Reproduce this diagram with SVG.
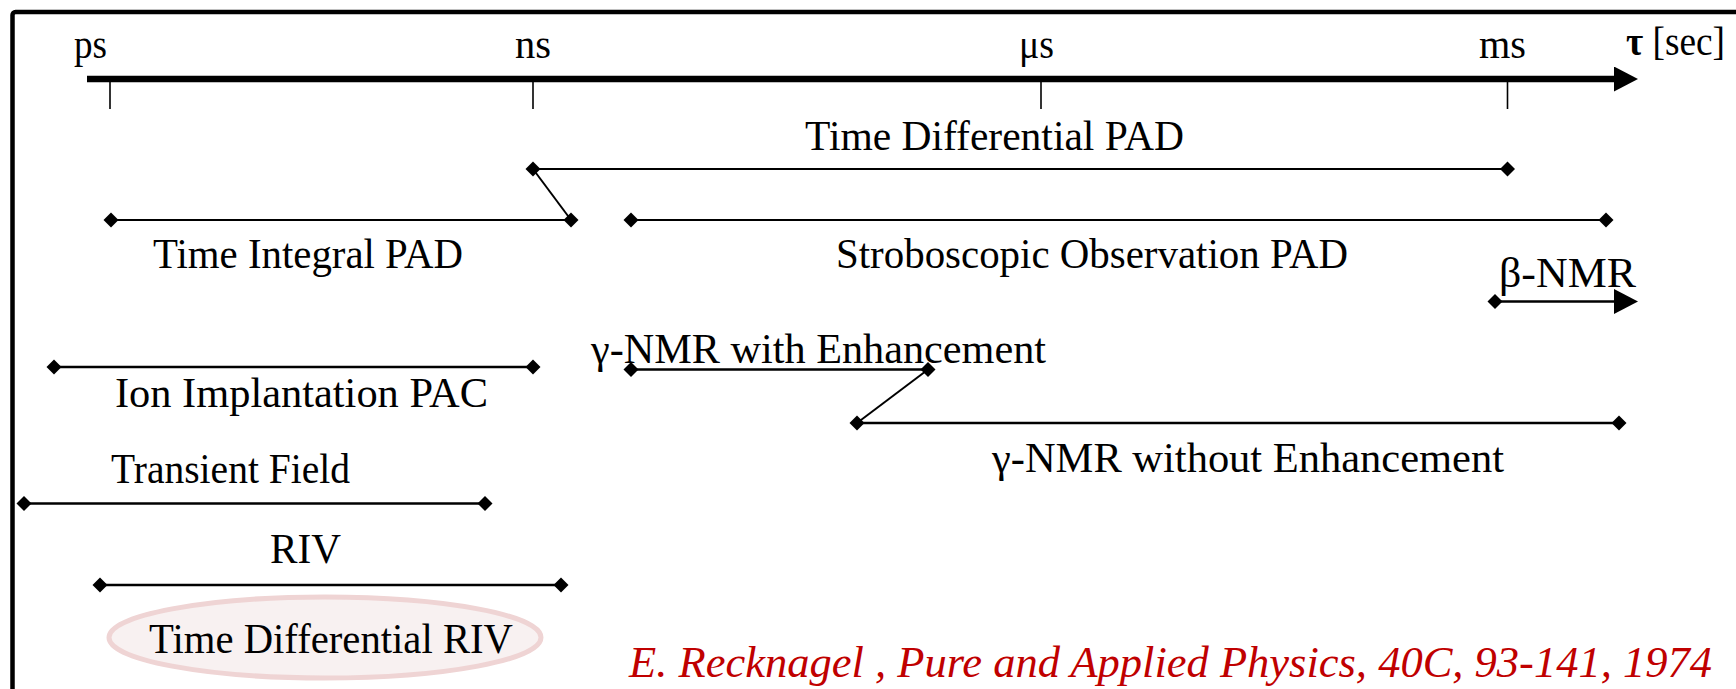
<svg xmlns="http://www.w3.org/2000/svg" width="1736" height="689" viewBox="0 0 1736 689">
  <style>
    .lbl { font-family: "Liberation Serif", "Times New Roman", serif; font-size: 43px; fill: #000; }
    .unit { font-family: "Liberation Serif", "Times New Roman", serif; font-size: 40px; fill: #000; }
    .range { stroke: #000; stroke-width: 2; fill: none; marker-start: url(#dia); marker-end: url(#dia); }
    .heavy { stroke-width: 2.6; }
    .open { stroke: #000; stroke-width: 2.6; fill: none; marker-start: url(#dia); marker-end: url(#tri); }
    .link { stroke: #000; stroke-width: 2; fill: none; }
    .tick { stroke: #000; stroke-width: 1.6; }
    .cite { font-family: "Liberation Serif", "Times New Roman", serif; font-style: italic; font-size: 45px; fill: #c00000; }
  </style>
  <defs>
    <marker id="dia" viewBox="-8 -8 16 16" markerWidth="16" markerHeight="16" markerUnits="userSpaceOnUse" refX="0" refY="0" orient="0">
      <path d="M0,-7.5 L7.5,0 L0,7.5 L-7.5,0 Z" fill="#000"/>
    </marker>
    <marker id="tri" viewBox="0 -12.5 24 25" markerWidth="24" markerHeight="25" markerUnits="userSpaceOnUse" refX="0" refY="0" orient="auto">
      <path d="M0,-12.5 L24,0 L0,12.5 Z" fill="#000"/>
    </marker>
  </defs>

  <!-- frame, open to the right and bottom -->
  <rect id="frame" x="12.5" y="12" width="1800" height="800" rx="3" fill="none" stroke="#000" stroke-width="4.5"/>

  <!-- logarithmic time axis -->
  <g id="axis">
    <line x1="87" y1="79" x2="1614" y2="79" stroke="#000" stroke-width="6.3" marker-end="url(#tri)"/>
    <line class="tick" x1="110" y1="82" x2="110" y2="109"/>
    <line class="tick" x1="533" y1="82" x2="533" y2="109"/>
    <line class="tick" x1="1041" y1="82" x2="1041" y2="109"/>
    <line class="tick" x1="1507.5" y1="82" x2="1507.5" y2="109"/>
    <text class="unit" x="74" y="58" textLength="33" lengthAdjust="spacingAndGlyphs">ps</text>
    <text class="unit" x="515" y="58" textLength="36" lengthAdjust="spacingAndGlyphs">ns</text>
    <text class="unit" x="1019" y="58" textLength="35" lengthAdjust="spacingAndGlyphs">μs</text>
    <text class="unit" x="1479" y="58" textLength="47" lengthAdjust="spacingAndGlyphs">ms</text>
    <text class="unit" x="1626" y="55" font-size="38" textLength="99" lengthAdjust="spacingAndGlyphs"><tspan font-weight="bold">τ</tspan> [sec]</text>
  </g>

  <g id="td-pad">
    <line class="range" x1="533" y1="169" x2="1507.5" y2="169"/>
    <text class="lbl" x="805" y="150" textLength="379" lengthAdjust="spacingAndGlyphs">Time Differential PAD</text>
  </g>

  <g id="ti-pad">
    <line class="range" x1="111" y1="220" x2="571" y2="220"/>
    <text class="lbl" x="153" y="268" textLength="310" lengthAdjust="spacingAndGlyphs">Time Integral PAD</text>
  </g>

  <g id="strobo-pad">
    <line class="range" x1="631" y1="220" x2="1606" y2="220"/>
    <text class="lbl" x="836" y="268" textLength="512" lengthAdjust="spacingAndGlyphs">Stroboscopic Observation PAD</text>
  </g>

  <g id="beta-nmr">
    <line class="open" x1="1495" y1="301.5" x2="1614" y2="301.5"/>
    <text class="lbl" x="1499" y="287" textLength="137" lengthAdjust="spacingAndGlyphs">β-NMR</text>
  </g>

  <g id="ion-pac">
    <line class="range heavy" x1="54" y1="367" x2="533" y2="367"/>
    <text class="lbl" x="115" y="407" textLength="373" lengthAdjust="spacingAndGlyphs">Ion Implantation PAC</text>
  </g>

  <g id="gamma-enh">
    <line class="range heavy" x1="631" y1="369.5" x2="928" y2="369.5"/>
    <text class="lbl" x="591" y="363" textLength="455" lengthAdjust="spacingAndGlyphs">γ-NMR with Enhancement</text>
  </g>

  <g id="gamma-noenh">
    <line class="range heavy" x1="857" y1="423" x2="1619" y2="423"/>
    <text class="lbl" x="992" y="472" textLength="512" lengthAdjust="spacingAndGlyphs">γ-NMR without Enhancement</text>
  </g>

  <g id="transient-field">
    <line class="range heavy" x1="24" y1="503.5" x2="485" y2="503.5"/>
    <text class="lbl" x="111" y="483" textLength="239" lengthAdjust="spacingAndGlyphs">Transient Field</text>
  </g>

  <g id="riv">
    <line class="range heavy" x1="100" y1="585" x2="561" y2="585"/>
    <text class="lbl" x="270" y="563" textLength="71" lengthAdjust="spacingAndGlyphs">RIV</text>
  </g>

  <g id="td-riv">
    <ellipse cx="325" cy="637.5" rx="216" ry="40.5" fill="#f8f1f1" stroke="#efd4d4" stroke-width="5"/>
    <text class="lbl" x="149" y="653" textLength="364" lengthAdjust="spacingAndGlyphs">Time Differential RIV</text>
  </g>

  <!-- links between adjoining ranges -->
  <g id="connectors">
    <line class="link" x1="533" y1="169" x2="571" y2="220"/>
    <line class="link" x1="928" y1="369.5" x2="857" y2="423"/>
  </g>

  <text id="citation" class="cite" x="629" y="677" textLength="1083" lengthAdjust="spacingAndGlyphs">E. Recknagel , Pure and Applied Physics, 40C, 93-141, 1974</text>
</svg>
